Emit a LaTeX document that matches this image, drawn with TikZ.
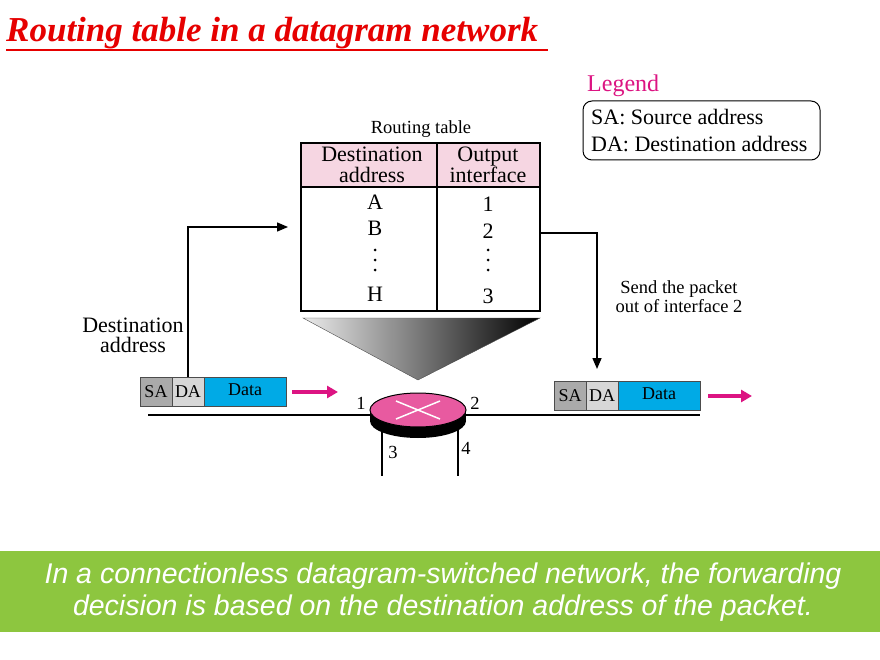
\documentclass[tikz,border=0pt]{standalone}
\usepackage{fontspec}
\setmainfont{Liberation Serif}
\newfontfamily\sansf{Liberation Sans}
\usetikzlibrary{arrows.meta}
\definecolor{tred}{RGB}{230,0,0}
\definecolor{lmag}{RGB}{220,20,130}
\definecolor{hpink}{RGB}{246,214,226}
\definecolor{dblue}{RGB}{0,170,230}
\definecolor{sag}{RGB}{170,170,170}
\definecolor{dag}{RGB}{215,215,215}
\definecolor{rpink}{RGB}{232,90,160}
\definecolor{band}{RGB}{141,198,63}
\begin{document}
\begin{tikzpicture}[x=1pt,y=-1pt,
  big/.style={inner sep=0pt,font=\fontsize{22}{22}\selectfont},
  sm/.style={inner sep=0pt,font=\fontsize{18.5}{20}\selectfont,align=center},
  cell/.style={draw=black!70,minimum height=29pt,inner sep=0pt,font=\fontsize{18}{20}\selectfont},
  conn/.style={line width=1.5pt,-{Triangle[length=11pt,width=9pt]}},
  parrow/.style={line width=3.5pt,lmag,-{Triangle[length=11pt,width=12pt]}},
  vdot/.style={fill=black,circle,inner sep=0pt,minimum size=3pt}]
\useasboundingbox (0,0) rectangle (880,660);
\fill[white] (0,0) rectangle (880,660);
% title
\node[anchor=west,inner sep=0pt,text=tred,font=\fontsize{35}{36}\selectfont\bfseries\itshape] (title) at (6,33) {Routing table in a datagram network};
\draw[tred,line width=1.5pt] (6,50) -- (548,50);
% legend
\node[anchor=west,text=lmag,inner sep=0pt,font=\fontsize{24}{24}\selectfont] (leg) at (587,86) {Legend};
\draw[rounded corners=9pt,line width=1pt] (583,101) rectangle (820,160);
\node[anchor=west,big] (l1) at (591,117) {SA: Source address};
\node[anchor=west,big] (l2) at (591,144) {DA: Destination address};
% table
\node[sm] (rtl) at (421,129) {Routing table};
\fill[hpink] (301,143) rectangle (540,187);
\draw[line width=1.2pt] (301,143) rectangle (540,311);
\draw[line width=1.2pt] (301,187) -- (540,187);
\draw[line width=1.2pt] (437,143) -- (437,311);
\node[big,align=center,font=\fontsize{22}{21}\selectfont] (h1) at (372,165) {Destination\\address};
\node[big,align=center,font=\fontsize{22}{21}\selectfont] (h2) at (488,165) {Output\\interface};
\node[big] (ra) at (375,202) {A};
\node[big] (rb) at (375,228) {B};
\node[big] (rh) at (375,294) {H};
\node[big] (o1) at (488,204) {1};
\node[big] (o2) at (488,231) {2};
\node[big] (o3) at (488,296) {3};
\foreach \yy in {250,260,270}{
  \node[vdot] at (375,\yy) {};
  \node[vdot] at (488,\yy) {};
}
% triangle
\shade[left color=black!8,right color=black] (303,318) -- (540,318) -- (418,380) -- cycle;
\draw[black!70] (303,318) -- (540,318) -- (418,380) -- cycle;
% labels
\node[sm,font=\fontsize{22}{20}\selectfont] (dest) at (133,335) {Destination\\address};
\node[sm,font=\fontsize{18.5}{19}\selectfont] (send) at (679,297) {Send the packet\\out of interface 2};
% left packet
\node[cell,fill=sag,minimum width=32pt] (sa1) at (156,391.5) {SA};
\node[cell,fill=dag,minimum width=32pt] (da1) at (188,391.5) {DA};
\node[cell,fill=dblue,minimum width=82pt,anchor=west] (d1) at (204,391.5) {\raisebox{3pt}{Data}};
\draw[parrow] (292,392) -- (338,392);
% right packet
\node[cell,fill=sag,minimum width=32pt] (sa2) at (570,395.5) {SA};
\node[cell,fill=dag,minimum width=32pt] (da2) at (602,395.5) {DA};
\node[cell,fill=dblue,minimum width=82pt,anchor=west] (d2) at (618,395.5) {\raisebox{3pt}{Data}};
\draw[parrow] (708,396) -- (752,396);
% connectors
\coordinate (c1) at (188,227);
\coordinate (c1e) at (288,227);
\draw[conn] (da1.north) -- (c1) -- (c1e);
\coordinate (c2s) at (540,233);
\coordinate (c2) at (597,233);
\coordinate (c2e) at (597,369);
\draw[conn] (c2s) -- (c2) -- (c2e);
% network lines
\draw[line width=1.5pt] (148,415) -- (700,415);
\draw[line width=1.5pt] (382,425) -- (382,476);
\draw[line width=1.5pt] (458,425) -- (458,476);
% router
\fill[black] (418,421) ellipse[x radius=48,y radius=17];
\fill[black] (370,410) rectangle (466,421);
\draw[black,line width=1pt,fill=rpink] (418,410) ellipse[x radius=48,y radius=17];
\draw[white,line width=1.5pt] (396,401) -- (440,419) (396,419) -- (440,401);
\node[sm] (p1) at (361,403) {1};
\node[sm] (p2) at (475,403) {2};
\node[sm] (p3) at (393,452) {3};
\node[sm] (p4) at (466,448) {4};
% band
\fill[band] (0,551) rectangle (880,632);
\node[text=white,align=center,inner sep=0pt,font=\sansf\itshape\fontsize{28.5}{32}\selectfont] (cap) at (443,592) {In a connectionless datagram-switched network, the forwarding\\decision is based on the destination address of the packet.};
\end{tikzpicture}
\end{document}
